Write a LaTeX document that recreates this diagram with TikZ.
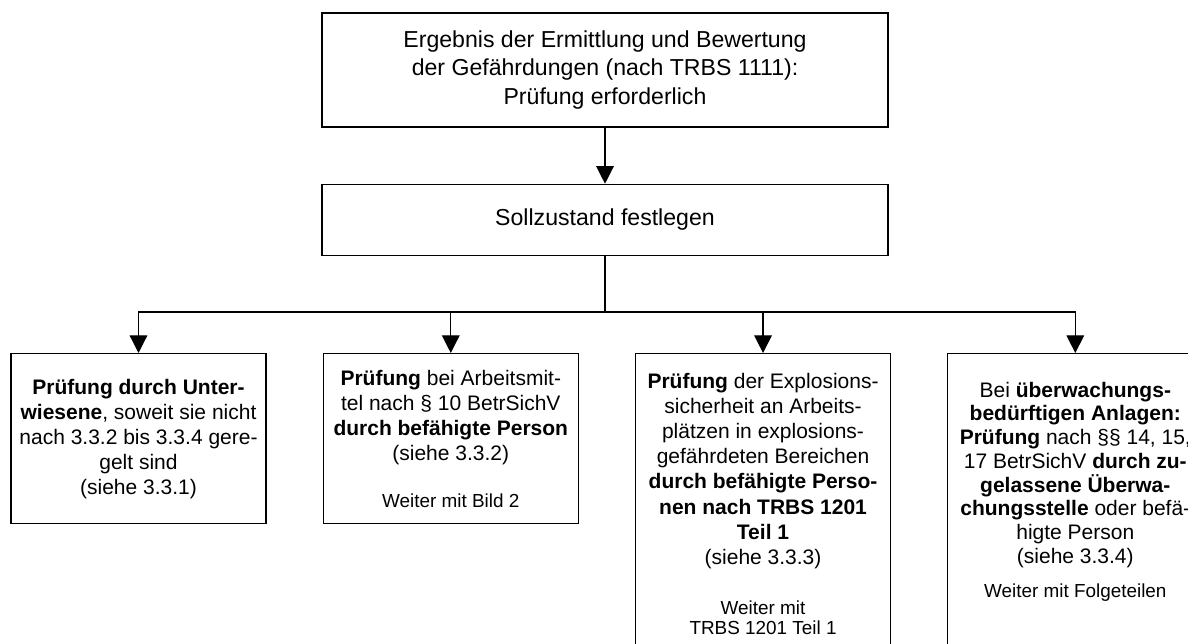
\documentclass[tikz,border=0pt]{standalone}
\usepackage{fontspec}
\setmainfont{Liberation Sans}
\usetikzlibrary{arrows.meta,positioning,calc}
\tikzstyle{box} = [draw, line width=0.6pt, rectangle, align=center, inner sep=0pt, minimum width=121.4pt, font=\fontsize{10}{11.9}\selectfont]
\tikzstyle{topbox} = [box, minimum width=269.5pt, font=\fontsize{11}{13.5}\selectfont]
\tikzstyle{line} = [draw, line width=0.6pt]
\newcommand{\weiter}[1]{{\fontsize{9}{10.35}\selectfont #1}}

\begin{document}
\begin{tikzpicture}[x=0.4762pt,y=-0.4762pt,node distance=26.7pt,>={Triangle[width=8.4pt,length=8.4pt]}]
    \useasboundingbox (0,0) rectangle (1188,644);
    \clip (0,0) rectangle (1188,644);
    \node [topbox, minimum height=54.3pt] (ergebnis) at (605,70) {Ergebnis der Ermittlung und Bewertung\\der Gefährdungen (nach TRBS 1111):\\Prüfung erforderlich};
    \node [topbox, minimum height=33.8pt, below = of ergebnis] (soll) {Sollzustand festlegen};
    \coordinate [below = of soll] (bus);
    \node [box, minimum height=81pt, anchor=north] (a) at (138.5,353) {\textbf{Prüfung durch Unter-}\\\textbf{wiesene}, soweit sie nicht\\nach 3.3.2 bis 3.3.4 gere-\\gelt sind\\(siehe 3.3.1)};
    \node [box, minimum height=81pt, right = of a.north east, anchor=north west] (b) {\textbf{Prüfung} bei Arbeitsmit-\\tel nach § 10 BetrSichV\\\textbf{durch befähigte Person}\\(siehe 3.3.2)\\[10.5pt]\weiter{Weiter mit Bild 2}};
    \node [box, minimum height=142.9pt, font=\fontsize{10}{12}\selectfont, right = of b.north east, anchor=north west] (c) {\textbf{Prüfung} der Explosions-\\sicherheit an Arbeits-\\plätzen in explosions-\\gefährdeten Bereichen\\\textbf{durch befähigte Perso-}\\\textbf{nen nach TRBS 1201}\\\textbf{Teil 1}\\(siehe 3.3.3)\\[11.8pt]\weiter{Weiter mit}\\[-2.5pt]\weiter{TRBS 1201 Teil 1}};
    \node [box, minimum height=142.9pt, font=\fontsize{10}{11.3}\selectfont, right = of c.north east, anchor=north west] (d) {Bei \textbf{überwachungs-}\\\textbf{bedürftigen Anlagen:}\\\textbf{Prüfung} nach §§ 14, 15,\\17 BetrSichV \textbf{durch zu-}\\\textbf{gelassene Überwa-}\\\textbf{chungsstelle} oder befä-\\higte Person\\(siehe 3.3.4)\\[5pt]\weiter{Weiter mit Folgeteilen}\\[2pt]\mbox{}};
    \draw [line, ->] (ergebnis) -- (soll);
    \draw [line] (soll) -- (bus);
    \foreach \n in {a,b,c,d}
        \draw [line, ->] (bus) -| (\n);
\end{tikzpicture}
\end{document}
